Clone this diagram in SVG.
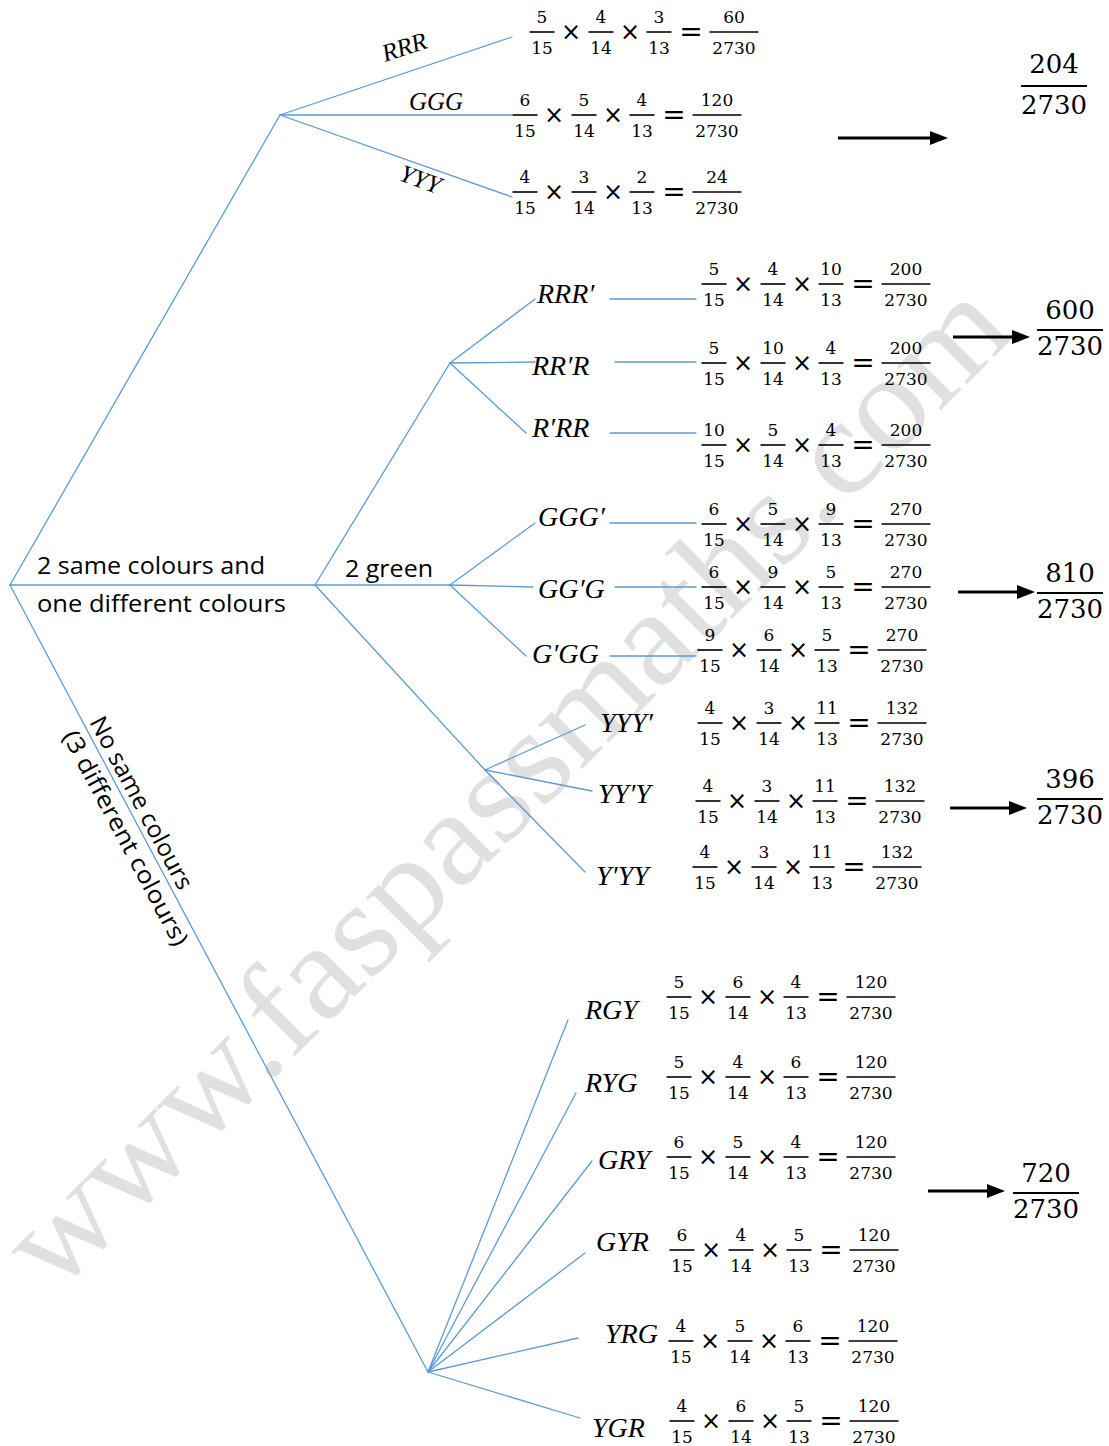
<svg xmlns="http://www.w3.org/2000/svg" width="1109" height="1446" viewBox="0 0 1109 1446">
<defs>
<style>
.ln{stroke:#5B9BD5;stroke-width:1.3;fill:none;stroke-linecap:round}
.n{font-family:"DejaVu Serif","Liberation Serif",serif;font-size:17px;text-anchor:middle;fill:#000}
.x{font-family:"DejaVu Sans","Liberation Sans",sans-serif;font-size:24px;text-anchor:middle;fill:#000}
.eq{font-family:"DejaVu Sans","Liberation Sans",sans-serif;font-size:28px;text-anchor:middle;fill:#000}
.b{stroke:#000;stroke-width:1.6}
.v{font-family:"Liberation Serif","DejaVu Serif",serif;font-style:italic;font-size:28px;fill:#000}
.vs{font-family:"Liberation Serif","DejaVu Serif",serif;font-style:italic;font-size:25px;fill:#000}
.s{font-family:"Open Sans","Liberation Sans",sans-serif;font-size:24px;fill:#000}
.big{font-family:"DejaVu Serif","Liberation Serif",serif;font-size:26px;text-anchor:middle;fill:#000}
.bb{stroke:#000;stroke-width:2}
.arr{stroke:#000;stroke-width:3.2;fill:none}
.wm{font-family:"Liberation Serif",serif;font-size:135px;fill:#e0e0e0}
</style>
<marker id="ah" markerUnits="userSpaceOnUse" viewBox="0 0 18 14" refX="8" refY="7" markerWidth="18" markerHeight="14" orient="auto">
<path d="M0,0 L18,7 L0,14 z" fill="#000"/>
</marker>
</defs>
<rect width="1109" height="1446" fill="#fff"/>

<text class="wm" x="55" y="1296" transform="rotate(-45 55 1296)" textLength="1360" lengthAdjust="spacingAndGlyphs">www.faspassmaths.com</text>

<g id="connectors">
<line class="ln" x1="10" y1="585" x2="280" y2="115"/>
<line class="ln" x1="10" y1="585" x2="315" y2="585"/>
<line class="ln" x1="10" y1="585" x2="428" y2="1372"/>
<line class="ln" x1="280" y1="115" x2="512" y2="37"/>
<line class="ln" x1="280" y1="115" x2="512" y2="115"/>
<line class="ln" x1="280" y1="115" x2="512" y2="197"/>
<line class="ln" x1="315" y1="585" x2="450" y2="363"/>
<line class="ln" x1="315" y1="585" x2="450" y2="585"/>
<line class="ln" x1="315" y1="585" x2="485" y2="770"/>
<line class="ln" x1="450" y1="363" x2="535" y2="299"/>
<line class="ln" x1="450" y1="363" x2="535" y2="362"/>
<line class="ln" x1="450" y1="363" x2="526" y2="433"/>
<line class="ln" x1="450" y1="585" x2="535" y2="523"/>
<line class="ln" x1="450" y1="585" x2="533" y2="587"/>
<line class="ln" x1="450" y1="585" x2="526" y2="656"/>
<line class="ln" x1="485" y1="770" x2="585" y2="725"/>
<line class="ln" x1="485" y1="770" x2="592" y2="791"/>
<line class="ln" x1="485" y1="770" x2="585" y2="872"/>
<line class="ln" x1="428" y1="1372" x2="568" y2="1020"/>
<line class="ln" x1="428" y1="1372" x2="576" y2="1093"/>
<line class="ln" x1="428" y1="1372" x2="592" y2="1161"/>
<line class="ln" x1="428" y1="1372" x2="585" y2="1253"/>
<line class="ln" x1="428" y1="1372" x2="578" y2="1338"/>
<line class="ln" x1="428" y1="1372" x2="580" y2="1418"/>
<line class="ln" x1="610" y1="299" x2="696" y2="299"/>
<line class="ln" x1="615" y1="362" x2="696" y2="362"/>
<line class="ln" x1="610" y1="433" x2="696" y2="433"/>
<line class="ln" x1="610" y1="523" x2="696" y2="523"/>
<line class="ln" x1="615" y1="587" x2="696" y2="587"/>
<line class="ln" x1="610" y1="656" x2="696" y2="656"/>
<line class="arr" x1="838" y1="138" x2="938" y2="138" marker-end="url(#ah)"/>
<line class="arr" x1="953" y1="337" x2="1020" y2="337" marker-end="url(#ah)"/>
<line class="arr" x1="958" y1="592" x2="1025" y2="592" marker-end="url(#ah)"/>
<line class="arr" x1="950" y1="808" x2="1017" y2="808" marker-end="url(#ah)"/>
<line class="arr" x1="928" y1="1191" x2="995" y2="1191" marker-end="url(#ah)"/>
</g>

<g id="branch-labels">
<text class="s" x="37" y="574" textLength="228" lengthAdjust="spacingAndGlyphs">2 same colours and</text>
<text class="s" x="37" y="612" textLength="249" lengthAdjust="spacingAndGlyphs">one different colours</text>
<text class="s" x="345" y="577" textLength="88" lengthAdjust="spacingAndGlyphs">2 green</text>
<text class="s" x="89" y="722" transform="rotate(62 89 722)" textLength="192" lengthAdjust="spacingAndGlyphs">No same colours</text>
<text class="s" x="62" y="736" transform="rotate(62 62 736)" textLength="240" lengthAdjust="spacingAndGlyphs">(3 different colours)</text>
<text class="vs" x="385" y="62" transform="rotate(-18 385 62)">RRR</text>
<text class="vs" x="409" y="110">GGG</text>
<text class="vs" x="398" y="180" transform="rotate(20 398 180)">YYY</text>
</g>

<g id="outcome-labels">
<text class="v" x="537" y="303">RRR′</text>
<text class="v" x="532" y="375">RR′R</text>
<text class="v" x="532" y="437">R′RR</text>
<text class="v" x="538" y="526">GGG′</text>
<text class="v" x="538" y="598">GG′G</text>
<text class="v" x="532" y="663">G′GG</text>
<text class="v" x="600" y="732">YYY′</text>
<text class="v" x="598" y="803">YY′Y</text>
<text class="v" x="596" y="885">Y′YY</text>
<text class="v" x="585" y="1019">RGY</text>
<text class="v" x="585" y="1092">RYG</text>
<text class="v" x="598" y="1169">GRY</text>
<text class="v" x="596" y="1251">GYR</text>
<text class="v" x="605" y="1343">YRG</text>
<text class="v" x="592" y="1437">YGR</text>
</g>

<g id="eq-rrr" transform="translate(542,32)">
<text class="n" y="-9">5</text><line class="b" x1="-12.5" x2="12.5"/><text class="n" y="22">15</text>
<text class="x" x="29" y="8">×</text>
<text class="n" x="59" y="-9">4</text><line class="b" x1="46.5" x2="71.5"/><text class="n" x="59" y="22">14</text>
<text class="x" x="88" y="8">×</text>
<text class="n" x="117" y="-9">3</text><line class="b" x1="104.5" x2="129.5"/><text class="n" x="117" y="22">13</text>
<text class="eq" x="149" y="9">=</text>
<text class="n" x="192" y="-9">60</text><line class="b" x1="167.5" x2="216.5"/><text class="n" x="192" y="22">2730</text>
</g>
<g id="eq-ggg" transform="translate(525,115)">
<text class="n" y="-9">6</text><line class="b" x1="-12.5" x2="12.5"/><text class="n" y="22">15</text>
<text class="x" x="29" y="8">×</text>
<text class="n" x="59" y="-9">5</text><line class="b" x1="46.5" x2="71.5"/><text class="n" x="59" y="22">14</text>
<text class="x" x="88" y="8">×</text>
<text class="n" x="117" y="-9">4</text><line class="b" x1="104.5" x2="129.5"/><text class="n" x="117" y="22">13</text>
<text class="eq" x="149" y="9">=</text>
<text class="n" x="192" y="-9">120</text><line class="b" x1="167.5" x2="216.5"/><text class="n" x="192" y="22">2730</text>
</g>
<g id="eq-yyy" transform="translate(525,192)">
<text class="n" y="-9">4</text><line class="b" x1="-12.5" x2="12.5"/><text class="n" y="22">15</text>
<text class="x" x="29" y="8">×</text>
<text class="n" x="59" y="-9">3</text><line class="b" x1="46.5" x2="71.5"/><text class="n" x="59" y="22">14</text>
<text class="x" x="88" y="8">×</text>
<text class="n" x="117" y="-9">2</text><line class="b" x1="104.5" x2="129.5"/><text class="n" x="117" y="22">13</text>
<text class="eq" x="149" y="9">=</text>
<text class="n" x="192" y="-9">24</text><line class="b" x1="167.5" x2="216.5"/><text class="n" x="192" y="22">2730</text>
</g>
<g id="eq-rrr1" transform="translate(714,284)">
<text class="n" y="-9">5</text><line class="b" x1="-12.5" x2="12.5"/><text class="n" y="22">15</text>
<text class="x" x="29" y="8">×</text>
<text class="n" x="59" y="-9">4</text><line class="b" x1="46.5" x2="71.5"/><text class="n" x="59" y="22">14</text>
<text class="x" x="88" y="8">×</text>
<text class="n" x="117" y="-9">10</text><line class="b" x1="104.5" x2="129.5"/><text class="n" x="117" y="22">13</text>
<text class="eq" x="149" y="9">=</text>
<text class="n" x="192" y="-9">200</text><line class="b" x1="167.5" x2="216.5"/><text class="n" x="192" y="22">2730</text>
</g>
<g id="eq-rr1r" transform="translate(714,363)">
<text class="n" y="-9">5</text><line class="b" x1="-12.5" x2="12.5"/><text class="n" y="22">15</text>
<text class="x" x="29" y="8">×</text>
<text class="n" x="59" y="-9">10</text><line class="b" x1="46.5" x2="71.5"/><text class="n" x="59" y="22">14</text>
<text class="x" x="88" y="8">×</text>
<text class="n" x="117" y="-9">4</text><line class="b" x1="104.5" x2="129.5"/><text class="n" x="117" y="22">13</text>
<text class="eq" x="149" y="9">=</text>
<text class="n" x="192" y="-9">200</text><line class="b" x1="167.5" x2="216.5"/><text class="n" x="192" y="22">2730</text>
</g>
<g id="eq-r1rr" transform="translate(714,445)">
<text class="n" y="-9">10</text><line class="b" x1="-12.5" x2="12.5"/><text class="n" y="22">15</text>
<text class="x" x="29" y="8">×</text>
<text class="n" x="59" y="-9">5</text><line class="b" x1="46.5" x2="71.5"/><text class="n" x="59" y="22">14</text>
<text class="x" x="88" y="8">×</text>
<text class="n" x="117" y="-9">4</text><line class="b" x1="104.5" x2="129.5"/><text class="n" x="117" y="22">13</text>
<text class="eq" x="149" y="9">=</text>
<text class="n" x="192" y="-9">200</text><line class="b" x1="167.5" x2="216.5"/><text class="n" x="192" y="22">2730</text>
</g>
<g id="eq-ggg1" transform="translate(714,524)">
<text class="n" y="-9">6</text><line class="b" x1="-12.5" x2="12.5"/><text class="n" y="22">15</text>
<text class="x" x="29" y="8">×</text>
<text class="n" x="59" y="-9">5</text><line class="b" x1="46.5" x2="71.5"/><text class="n" x="59" y="22">14</text>
<text class="x" x="88" y="8">×</text>
<text class="n" x="117" y="-9">9</text><line class="b" x1="104.5" x2="129.5"/><text class="n" x="117" y="22">13</text>
<text class="eq" x="149" y="9">=</text>
<text class="n" x="192" y="-9">270</text><line class="b" x1="167.5" x2="216.5"/><text class="n" x="192" y="22">2730</text>
</g>
<g id="eq-gg1g" transform="translate(714,587)">
<text class="n" y="-9">6</text><line class="b" x1="-12.5" x2="12.5"/><text class="n" y="22">15</text>
<text class="x" x="29" y="8">×</text>
<text class="n" x="59" y="-9">9</text><line class="b" x1="46.5" x2="71.5"/><text class="n" x="59" y="22">14</text>
<text class="x" x="88" y="8">×</text>
<text class="n" x="117" y="-9">5</text><line class="b" x1="104.5" x2="129.5"/><text class="n" x="117" y="22">13</text>
<text class="eq" x="149" y="9">=</text>
<text class="n" x="192" y="-9">270</text><line class="b" x1="167.5" x2="216.5"/><text class="n" x="192" y="22">2730</text>
</g>
<g id="eq-g1gg" transform="translate(710,650)">
<text class="n" y="-9">9</text><line class="b" x1="-12.5" x2="12.5"/><text class="n" y="22">15</text>
<text class="x" x="29" y="8">×</text>
<text class="n" x="59" y="-9">6</text><line class="b" x1="46.5" x2="71.5"/><text class="n" x="59" y="22">14</text>
<text class="x" x="88" y="8">×</text>
<text class="n" x="117" y="-9">5</text><line class="b" x1="104.5" x2="129.5"/><text class="n" x="117" y="22">13</text>
<text class="eq" x="149" y="9">=</text>
<text class="n" x="192" y="-9">270</text><line class="b" x1="167.5" x2="216.5"/><text class="n" x="192" y="22">2730</text>
</g>
<g id="eq-yyy1" transform="translate(710,723)">
<text class="n" y="-9">4</text><line class="b" x1="-12.5" x2="12.5"/><text class="n" y="22">15</text>
<text class="x" x="29" y="8">×</text>
<text class="n" x="59" y="-9">3</text><line class="b" x1="46.5" x2="71.5"/><text class="n" x="59" y="22">14</text>
<text class="x" x="88" y="8">×</text>
<text class="n" x="117" y="-9">11</text><line class="b" x1="104.5" x2="129.5"/><text class="n" x="117" y="22">13</text>
<text class="eq" x="149" y="9">=</text>
<text class="n" x="192" y="-9">132</text><line class="b" x1="167.5" x2="216.5"/><text class="n" x="192" y="22">2730</text>
</g>
<g id="eq-yy1y" transform="translate(708,801)">
<text class="n" y="-9">4</text><line class="b" x1="-12.5" x2="12.5"/><text class="n" y="22">15</text>
<text class="x" x="29" y="8">×</text>
<text class="n" x="59" y="-9">3</text><line class="b" x1="46.5" x2="71.5"/><text class="n" x="59" y="22">14</text>
<text class="x" x="88" y="8">×</text>
<text class="n" x="117" y="-9">11</text><line class="b" x1="104.5" x2="129.5"/><text class="n" x="117" y="22">13</text>
<text class="eq" x="149" y="9">=</text>
<text class="n" x="192" y="-9">132</text><line class="b" x1="167.5" x2="216.5"/><text class="n" x="192" y="22">2730</text>
</g>
<g id="eq-y1yy" transform="translate(705,867)">
<text class="n" y="-9">4</text><line class="b" x1="-12.5" x2="12.5"/><text class="n" y="22">15</text>
<text class="x" x="29" y="8">×</text>
<text class="n" x="59" y="-9">3</text><line class="b" x1="46.5" x2="71.5"/><text class="n" x="59" y="22">14</text>
<text class="x" x="88" y="8">×</text>
<text class="n" x="117" y="-9">11</text><line class="b" x1="104.5" x2="129.5"/><text class="n" x="117" y="22">13</text>
<text class="eq" x="149" y="9">=</text>
<text class="n" x="192" y="-9">132</text><line class="b" x1="167.5" x2="216.5"/><text class="n" x="192" y="22">2730</text>
</g>
<g id="eq-rgy" transform="translate(679,997)">
<text class="n" y="-9">5</text><line class="b" x1="-12.5" x2="12.5"/><text class="n" y="22">15</text>
<text class="x" x="29" y="8">×</text>
<text class="n" x="59" y="-9">6</text><line class="b" x1="46.5" x2="71.5"/><text class="n" x="59" y="22">14</text>
<text class="x" x="88" y="8">×</text>
<text class="n" x="117" y="-9">4</text><line class="b" x1="104.5" x2="129.5"/><text class="n" x="117" y="22">13</text>
<text class="eq" x="149" y="9">=</text>
<text class="n" x="192" y="-9">120</text><line class="b" x1="167.5" x2="216.5"/><text class="n" x="192" y="22">2730</text>
</g>
<g id="eq-ryg" transform="translate(679,1077)">
<text class="n" y="-9">5</text><line class="b" x1="-12.5" x2="12.5"/><text class="n" y="22">15</text>
<text class="x" x="29" y="8">×</text>
<text class="n" x="59" y="-9">4</text><line class="b" x1="46.5" x2="71.5"/><text class="n" x="59" y="22">14</text>
<text class="x" x="88" y="8">×</text>
<text class="n" x="117" y="-9">6</text><line class="b" x1="104.5" x2="129.5"/><text class="n" x="117" y="22">13</text>
<text class="eq" x="149" y="9">=</text>
<text class="n" x="192" y="-9">120</text><line class="b" x1="167.5" x2="216.5"/><text class="n" x="192" y="22">2730</text>
</g>
<g id="eq-gry" transform="translate(679,1157)">
<text class="n" y="-9">6</text><line class="b" x1="-12.5" x2="12.5"/><text class="n" y="22">15</text>
<text class="x" x="29" y="8">×</text>
<text class="n" x="59" y="-9">5</text><line class="b" x1="46.5" x2="71.5"/><text class="n" x="59" y="22">14</text>
<text class="x" x="88" y="8">×</text>
<text class="n" x="117" y="-9">4</text><line class="b" x1="104.5" x2="129.5"/><text class="n" x="117" y="22">13</text>
<text class="eq" x="149" y="9">=</text>
<text class="n" x="192" y="-9">120</text><line class="b" x1="167.5" x2="216.5"/><text class="n" x="192" y="22">2730</text>
</g>
<g id="eq-gyr" transform="translate(682,1250)">
<text class="n" y="-9">6</text><line class="b" x1="-12.5" x2="12.5"/><text class="n" y="22">15</text>
<text class="x" x="29" y="8">×</text>
<text class="n" x="59" y="-9">4</text><line class="b" x1="46.5" x2="71.5"/><text class="n" x="59" y="22">14</text>
<text class="x" x="88" y="8">×</text>
<text class="n" x="117" y="-9">5</text><line class="b" x1="104.5" x2="129.5"/><text class="n" x="117" y="22">13</text>
<text class="eq" x="149" y="9">=</text>
<text class="n" x="192" y="-9">120</text><line class="b" x1="167.5" x2="216.5"/><text class="n" x="192" y="22">2730</text>
</g>
<g id="eq-yrg" transform="translate(681,1341)">
<text class="n" y="-9">4</text><line class="b" x1="-12.5" x2="12.5"/><text class="n" y="22">15</text>
<text class="x" x="29" y="8">×</text>
<text class="n" x="59" y="-9">5</text><line class="b" x1="46.5" x2="71.5"/><text class="n" x="59" y="22">14</text>
<text class="x" x="88" y="8">×</text>
<text class="n" x="117" y="-9">6</text><line class="b" x1="104.5" x2="129.5"/><text class="n" x="117" y="22">13</text>
<text class="eq" x="149" y="9">=</text>
<text class="n" x="192" y="-9">120</text><line class="b" x1="167.5" x2="216.5"/><text class="n" x="192" y="22">2730</text>
</g>
<g id="eq-ygr" transform="translate(682,1421)">
<text class="n" y="-9">4</text><line class="b" x1="-12.5" x2="12.5"/><text class="n" y="22">15</text>
<text class="x" x="29" y="8">×</text>
<text class="n" x="59" y="-9">6</text><line class="b" x1="46.5" x2="71.5"/><text class="n" x="59" y="22">14</text>
<text class="x" x="88" y="8">×</text>
<text class="n" x="117" y="-9">5</text><line class="b" x1="104.5" x2="129.5"/><text class="n" x="117" y="22">13</text>
<text class="eq" x="149" y="9">=</text>
<text class="n" x="192" y="-9">120</text><line class="b" x1="167.5" x2="216.5"/><text class="n" x="192" y="22">2730</text>
</g>

<g id="total-204" transform="translate(1054,86)">
<text class="big" y="-13">204</text><line class="bb" x1="-33" x2="33"/><text class="big" y="28">2730</text>
</g>
<g id="total-600" transform="translate(1070,330)">
<text class="big" y="-11">600</text><line class="bb" x1="-33" x2="33"/><text class="big" y="25">2730</text>
</g>
<g id="total-810" transform="translate(1070,593)">
<text class="big" y="-11">810</text><line class="bb" x1="-33" x2="33"/><text class="big" y="25">2730</text>
</g>
<g id="total-396" transform="translate(1070,799)">
<text class="big" y="-11">396</text><line class="bb" x1="-33" x2="33"/><text class="big" y="25">2730</text>
</g>
<g id="total-720" transform="translate(1046,1193)">
<text class="big" y="-11">720</text><line class="bb" x1="-33" x2="33"/><text class="big" y="25">2730</text>
</g>
</svg>
